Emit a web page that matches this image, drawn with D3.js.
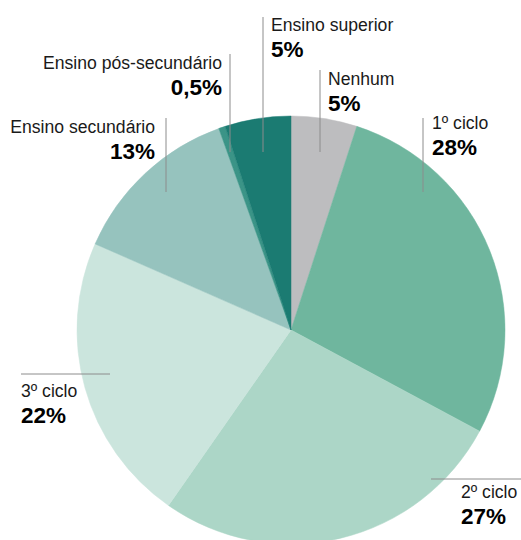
<!DOCTYPE html>
<html lang="pt">
<head>
<meta charset="UTF-8">
<title>Escolaridade</title>
<script src="https://d3js.org/d3.v7.min.js"></script>
<style>
body { margin: 0; background: #fff; }
svg text { font-family: "Liberation Sans", Arial, Helvetica, sans-serif; fill: #1a1a1a; }
.name { font-size: 17.6px; }
.pct { font-size: 22.5px; font-weight: bold; fill: #000; }
</style>
</head>
<body>
<div id="chart"></div>
<script>
// dados
const categories = ["Nenhum", "1º ciclo", "2º ciclo", "3º ciclo", "Ensino secundário", "Ensino pós-secundário", "Ensino superior"]
const values = [5, 28, 27, 22, 13, 0.5, 5]
const valueLabels = ["5%", "28%", "27%", "22%", "13%", "0,5%", "5%"]
const colors = ["#bdbdbf", "#6fb69e", "#acd6c7", "#cbe5dd", "#96c3be", "#3b9487", "#1b7b72"]

// posição das etiquetas (x, y da linha base do nome, alinhamento, linha guia)
const labelLayout = [
    { x: 328, y: 85, anchor: "start", line: [320, 70, 320, 152] },
    { x: 432, y: 129, anchor: "start", line: [423, 118, 423, 192] },
    { x: 461, y: 498, anchor: "start", line: [431, 479, 521, 479] },
    { x: 21, y: 397, anchor: "start", line: [21, 374, 110, 374] },
    { x: 155, y: 133, anchor: "end", line: [166, 118, 166, 192] },
    { x: 222, y: 69, anchor: "end", line: [230, 54, 230, 152] },
    { x: 271, y: 31, anchor: "start", line: [263, 17, 263, 152] }
]

const width = 521, height = 540
const cx = 291, cy = 330, radius = 214

const svg = d3.select('#chart').append('svg')
    .attr('width', width)
    .attr('height', height)

const pie = d3.pie().sort(null).value(d => d)
const arc = d3.arc().innerRadius(0).outerRadius(radius)

const g = svg.append('g').attr('transform', 'translate(' + cx + ',' + cy + ')')

g.selectAll('path')
    .data(pie(values))
    .enter()
    .append('path')
    .attr('d', arc)
    .attr('fill', (d, i) => colors[i])
    .attr('stroke', (d, i) => colors[i])
    .attr('stroke-width', 0.5)

// linhas guia
svg.append('g')
    .selectAll('line')
    .data(labelLayout)
    .enter()
    .append('line')
    .attr('x1', d => d.line[0])
    .attr('y1', d => d.line[1])
    .attr('x2', d => d.line[2])
    .attr('y2', d => d.line[3])
    .attr('stroke', '#8c8c8c')
    .attr('stroke-width', 1)

// etiquetas
const labels = svg.append('g')
    .selectAll('g')
    .data(categories)
    .enter()
    .append('g')

labels.append('text')
    .attr('class', 'name')
    .attr('x', (d, i) => labelLayout[i].x)
    .attr('y', (d, i) => labelLayout[i].y)
    .attr('text-anchor', (d, i) => labelLayout[i].anchor)
    .text(d => d)

labels.append('text')
    .attr('class', 'pct')
    .attr('x', (d, i) => labelLayout[i].x)
    .attr('y', (d, i) => labelLayout[i].y + 26)
    .attr('text-anchor', (d, i) => labelLayout[i].anchor)
    .text((d, i) => valueLabels[i])
</script>
</body>
</html>
